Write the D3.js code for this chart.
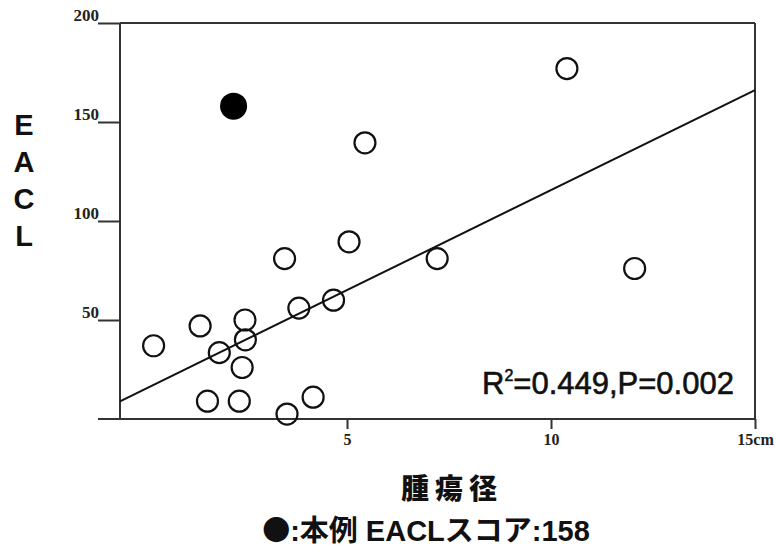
<!DOCTYPE html>
<html>
<head>
<meta charset="utf-8">
<script src="https://cdn.jsdelivr.net/npm/d3@7.9.0/dist/d3.min.js"></script>
<style>
  body { margin: 0; background: #fff; }
  svg { display: block; }
</style>
</head>
<body>
<svg width="776" height="551"></svg>
<script>
// tumour diameter (cm) vs EACL score, open circles
const sizes = [0.26, 1.40, 2.50, 2.51, 1.87, 2.43, 1.58, 2.36, 3.53, 3.82, 4.17, 3.47, 5.05, 4.67, 7.21, 5.44, 10.39, 12.05];
const scores = [37, 47, 50, 40, 33.5, 26, 9, 9, 2.5, 56, 11, 81, 89.5, 60, 81, 139.5, 177, 76];
// this case (filled)
const caseSize = [2.22];
const caseScore = [158];
// regression line
const fitIntercept = 14.6;
const fitSlope = 10.1;
const yTicks = [50, 100, 150, 200];
const xTicks = [5, 10, 15];
const yLetters = ['E', 'A', 'C', 'L'];

let svg = d3.select('svg');

let x = d3.scaleLinear().domain([0, 15]).range([143, 755]);
let y = d3.scaleLinear().domain([0, 200]).range([419, 23]);
const left = 120, right = 755;

// y axis ticks
let yAxis = svg.append('g')
    .attr('transform', `translate(${left},0)`)
    .call(d3.axisLeft(y).tickValues(yTicks).tickSize(22).tickPadding(-1));
yAxis.select('.domain').remove();
yAxis.selectAll('line').attr('stroke', '#333').attr('stroke-width', 2);
yAxis.selectAll('text')
    .attr('font-family', '"Liberation Serif", serif')
    .attr('font-weight', 'bold')
    .attr('font-size', 17)
    .attr('fill', '#222')
    .attr('dy', '-0.15em');

// x axis ticks
let xAxis = svg.append('g')
    .attr('transform', `translate(0,${y(0)})`)
    .call(d3.axisBottom(x).tickValues(xTicks).tickSize(10).tickPadding(5)
      .tickFormat((d) => d === 15 ? '15cm' : d));
xAxis.select('.domain').remove();
xAxis.selectAll('line').attr('stroke', '#333').attr('stroke-width', 2);
xAxis.selectAll('text')
    .attr('font-family', '"Liberation Serif", serif')
    .attr('font-weight', 'bold')
    .attr('font-size', 16)
    .attr('fill', '#222');

// frame
let frame = svg.append('g').attr('stroke', '#333').attr('stroke-width', 2);
frame.append('line').attr('x1', 98).attr('x2', right).attr('y1', y(0)).attr('y2', y(0));
frame.append('line').attr('x1', left).attr('x2', right).attr('y1', y(200)).attr('y2', y(200));
frame.append('line').attr('x1', left).attr('x2', left).attr('y1', y(200)).attr('y2', y(0));
frame.append('line').attr('x1', right).attr('x2', right).attr('y1', y(200)).attr('y2', y(0));

// regression line across the plot
let x0 = x.invert(left), x1 = x.invert(right);
svg.append('line')
    .attr('x1', x(x0)).attr('y1', y(fitIntercept + fitSlope * x0))
    .attr('x2', x(x1)).attr('y2', y(fitIntercept + fitSlope * x1))
    .attr('stroke', '#111')
    .attr('stroke-width', 2);

// open circles
svg.append('g')
  .selectAll('circle')
  .data(sizes.map((s, i) => ({ s: s, v: scores[i] })))
  .enter()
  .append('circle')
    .attr('cx', (d) => x(d.s))
    .attr('cy', (d) => y(d.v))
    .attr('r', 10.5)
    .attr('fill', 'none')
    .attr('stroke', '#111')
    .attr('stroke-width', 2.2);

// filled circle
svg.append('circle')
    .attr('cx', x(caseSize[0]))
    .attr('cy', y(caseScore[0]))
    .attr('r', 13.5)
    .attr('fill', '#000');

// R2 annotation
let r2 = svg.append('text')
    .attr('x', 482).attr('y', 394)
    .attr('font-family', '"Liberation Sans", Arial, sans-serif')
    .attr('font-size', 31)
    .attr('stroke', '#111')
    .attr('stroke-width', 0.6)
    .attr('fill', '#111');
r2.append('tspan').text('R');
r2.append('tspan').attr('font-size', 16).attr('dy', -13).text('2');
r2.append('tspan').attr('dy', 13).text('=0.449,P=0.002');

// y label, stacked letters
svg.append('g')
  .selectAll('text')
  .data(yLetters)
  .enter()
  .append('text')
    .attr('x', 24)
    .attr('y', (d, i) => 135 + i * 37)
    .attr('text-anchor', 'middle')
    .attr('font-family', '"Liberation Sans", Arial, sans-serif')
    .attr('font-weight', 'bold')
    .attr('font-size', 29)
    .attr('fill', '#111')
    .text((d) => d);

// x label
svg.append('text')
    .attr('x', 452).attr('y', 499)
    .attr('text-anchor', 'middle')
    .attr('font-family', '"Noto Sans CJK JP", sans-serif')
    .attr('font-weight', 900)
    .attr('font-size', 28)
    .attr('letter-spacing', 6)
    .attr('fill', '#111')
    .text('腫瘍径');

// legend note
let note = svg.append('text')
    .attr('x', 428).attr('y', 541)
    .attr('text-anchor', 'middle')
    .attr('font-family', '"Liberation Sans", "Noto Sans CJK JP", sans-serif')
    .attr('font-weight', 'bold')
    .attr('font-size', 29)
    .attr('fill', '#111');
note.append('tspan')
    .attr('font-family', '"Noto Sans CJK JP", sans-serif')
    .attr('font-size', 28)
    .attr('dx', -2)
    .text('●');
note.append('tspan').text(':本例 EACLスコア:158');
</script>
</body>
</html>
